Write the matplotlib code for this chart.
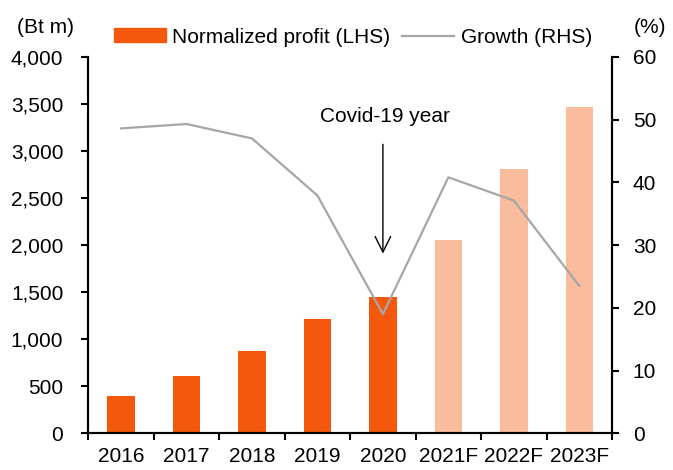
import numpy as np
import matplotlib
matplotlib.use("Agg")
from matplotlib import pyplot as plt
from matplotlib.patches import Patch
from matplotlib.lines import Line2D

# Chart data
years = ["2016", "2017", "2018", "2019", "2020", "2021F", "2022F", "2023F"]
profit = [400, 605, 880, 1215, 1450, 2050, 2805, 3465]
growth = [48.6, 49.3, 47.0, 37.9, 19.0, 40.8, 37.1, 23.5]
forecast = [False, False, False, False, False, True, True, True]

dark_orange = "#F4580C"
light_orange = "#F9BC9C"
grey = "#A6A6A6"

plt.rcParams['font.family'] = ['Liberation Sans', 'DejaVu Sans']
plt.rcParams['font.size'] = 15

fig = plt.figure(figsize=(6.73, 4.70), dpi=100)
ax = fig.add_axes([0.1312, 0.078, 0.7782, 0.801])
ax2 = ax.twinx()

x = np.arange(len(years))
colors = [light_orange if f else dark_orange for f in forecast]
ax.bar(x, profit, width=0.42, color=colors, zorder=1)
ax2.plot(x, growth, color=grey, lw=1.6, zorder=2)

# Axis setup
ax.set_xlim(-0.5, len(years) - 0.5)
ax.set_ylim(0, 4000)
ax.set_yticks(range(0, 4001, 500))
ax.set_yticklabels([f"{v:,}" for v in range(0, 4001, 500)])
ax2.set_ylim(0, 60)
ax2.set_yticks(range(0, 61, 10))

ax.set_xticks(x)
ax.set_xticklabels(years)
ax.set_xticks(np.arange(-0.5, len(years), 1), minor=True)
ax.tick_params(axis='x', which='major', length=0, pad=10)
ax.tick_params(axis='x', which='minor', length=5, width=1.5, direction='out')
ax.tick_params(axis='y', length=5, width=1.5, direction='out', pad=13)
ax2.tick_params(axis='y', length=5, width=1.5, direction='out', pad=10)

for a in (ax, ax2):
    a.spines['top'].set_visible(False)
    for s in ('left', 'right', 'bottom'):
        a.spines[s].set_linewidth(1.5)

# Keep the line above the bars
ax.set_zorder(ax2.get_zorder() - 1)
ax.patch.set_visible(False)

# Covid annotation
ax.annotate("", xy=(4, 1880), xytext=(4, 3100),
            arrowprops=dict(arrowstyle='->', color='black', lw=1.0,
                            mutation_scale=28))
ax.text(4.03, 3370, "Covid-19 year", ha='center', va='center')

# Unit labels
fig.text(0.025, 0.942, "(Bt m)", ha='left', va='center')
fig.text(0.99, 0.942, "(%)", ha='right', va='center')

# Legend
handles = [Patch(color=dark_orange), Line2D([0], [0], color=grey, lw=1.6)]
fig.legend(handles, ["Normalized profit (LHS)", "Growth (RHS)"],
           loc='center left', bbox_to_anchor=(0.169, 0.921), ncol=2, frameon=False,
           borderpad=0, borderaxespad=0,
           handlelength=2.5, handleheight=0.63, handletextpad=0.3, columnspacing=0.58)

plt.savefig("out.png", dpi=100)
